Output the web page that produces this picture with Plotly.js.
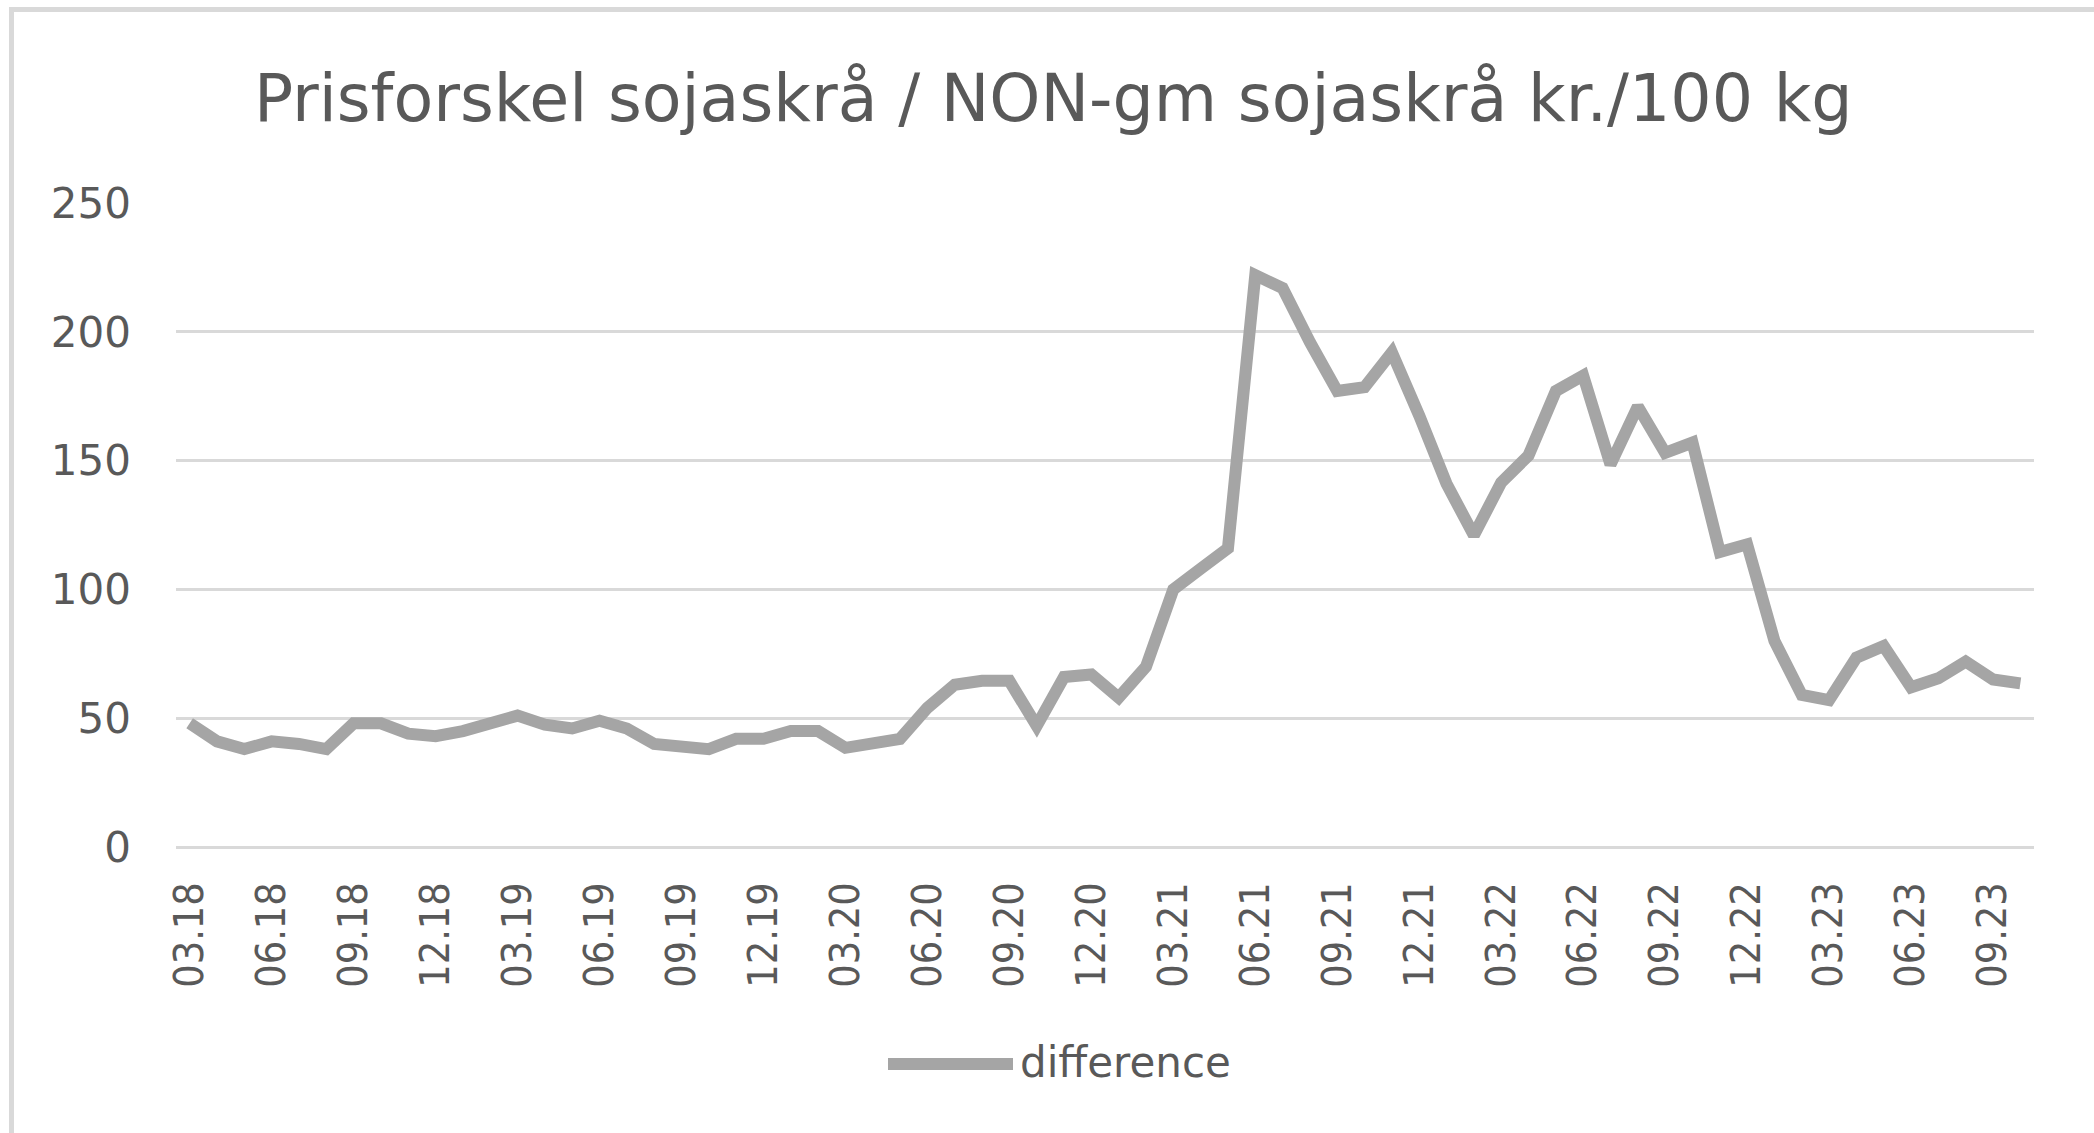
<!DOCTYPE html>
<html>
<head>
<meta charset="utf-8">
<script src="https://cdn.plot.ly/plotly-3.0.1.min.js"></script>
<style>
  html, body { margin: 0; padding: 0; background: #ffffff; }
  #chart { width: 2094px; height: 1133px; }
  #frame { position: absolute; left: 9px; top: 7px; width: 2200px; height: 1200px;
           border-left: 5px solid #d9d9d9; border-top: 5px solid #d9d9d9; pointer-events: none; }
</style>
</head>
<body>
<div id="chart"></div>
<div id="frame"></div>
<script>
const months = [
  "03.18","04.18","05.18","06.18","07.18","08.18","09.18","10.18","11.18","12.18",
  "01.19","02.19","03.19","04.19","05.19","06.19","07.19","08.19","09.19","10.19","11.19","12.19",
  "01.20","02.20","03.20","04.20","05.20","06.20","07.20","08.20","09.20","10.20","11.20","12.20",
  "01.21","02.21","03.21","04.21","05.21","06.21","07.21","08.21","09.21","10.21","11.21","12.21",
  "01.22","02.22","03.22","04.22","05.22","06.22","07.22","08.22","09.22","10.22","11.22","12.22",
  "01.23","02.23","03.23","04.23","05.23","06.23","07.23","08.23","09.23","10.23"
];
const difference = [
  48, 41, 38, 41, 40, 38, 48, 48, 44, 43,
  45, 47.5, 51, 47.5, 46, 49, 46, 40, 39, 38, 42, 42,
  45, 45, 38.5, 40, 42, 54, 63, 64.5, 64.5, 47, 66, 67,
  58, 70, 100, 108, 116, 222, 217, 196, 177, 178.5, 192, 167.5,
  141, 121, 141.5, 152, 177, 183, 148.5, 171, 153, 157, 114.5, 117.5,
  80, 59, 57, 73.5, 78, 62, 65.5, 72, 65, 63.5
];
const tickLabels = [
  "03.18","06.18","09.18","12.18","03.19","06.19","09.19","12.19",
  "03.20","06.20","09.20","12.20","03.21","06.21","09.21","12.21",
  "03.22","06.22","09.22","12.22","03.23","06.23","09.23"
];
const seriesName = "difference";
const chartTitle = "Prisforskel sojaskrå / NON-gm sojaskrå kr./100 kg";

const textColor = "#595959";
const gridColor = "#d9d9d9";
const lineColor = "#a5a5a5";

const plotL = 176, plotR = 2034, plotT = 203, plotB = 847;
const plotW = plotR - plotL, plotH = plotB - plotT;

const trace = {
  type: "scatter",
  mode: "lines",
  x: months,
  y: difference,
  name: seriesName,
  line: { color: lineColor, width: 12, shape: "linear" },
  hoverinfo: "x+y"
};

const layout = {
  width: 2094,
  height: 1133,
  paper_bgcolor: "#ffffff",
  plot_bgcolor: "#ffffff",
  margin: { l: plotL, r: 2094 - plotR, t: plotT, b: 1133 - plotB },
  showlegend: false,
  title: {
    text: chartTitle,
    font: { family: "DejaVu Sans, Open Sans, sans-serif", size: 65, color: textColor },
    xref: "container", x: 0.503, xanchor: "center",
    yref: "container", y: 1 - 98 / 1133, yanchor: "middle"
  },
  xaxis: {
    type: "category",
    range: [-0.5, months.length - 0.5],
    tickmode: "array",
    tickvals: tickLabels,
    ticktext: tickLabels,
    tickangle: -90,
    tickfont: { family: "DejaVu Sans Condensed, DejaVu Sans, sans-serif", size: 41, color: textColor },
    ticklabelstandoff: 26,
    showgrid: false,
    showline: false,
    ticks: "",
    zeroline: false,
    fixedrange: true
  },
  yaxis: {
    range: [0, 250],
    tickmode: "linear",
    tick0: 0,
    dtick: 50,
    tickfont: { family: "DejaVu Sans, Open Sans, sans-serif", size: 42, color: textColor },
    ticklabelstandoff: 44,
    showgrid: true,
    gridcolor: gridColor,
    gridwidth: 3,
    zeroline: true,
    zerolinecolor: gridColor,
    zerolinewidth: 3,
    showline: false,
    ticks: "",
    fixedrange: true
  },
  shapes: [{
    type: "line", xref: "paper", yref: "paper",
    x0: (888 - plotL) / plotW, x1: (1013 - plotL) / plotW,
    y0: (plotB - 1064) / plotH, y1: (plotB - 1064) / plotH,
    line: { color: lineColor, width: 12 }
  }],
  annotations: [{
    xref: "paper", yref: "paper",
    x: (1018 - plotL) / plotW, y: (plotB - 1062) / plotH,
    xanchor: "left", yanchor: "middle",
    text: seriesName, showarrow: false,
    font: { family: "DejaVu Sans, Open Sans, sans-serif", size: 42, color: textColor }
  }]
};

Plotly.newPlot("chart", [trace], layout, { displayModeBar: false, staticPlot: true });
</script>
</body>
</html>
